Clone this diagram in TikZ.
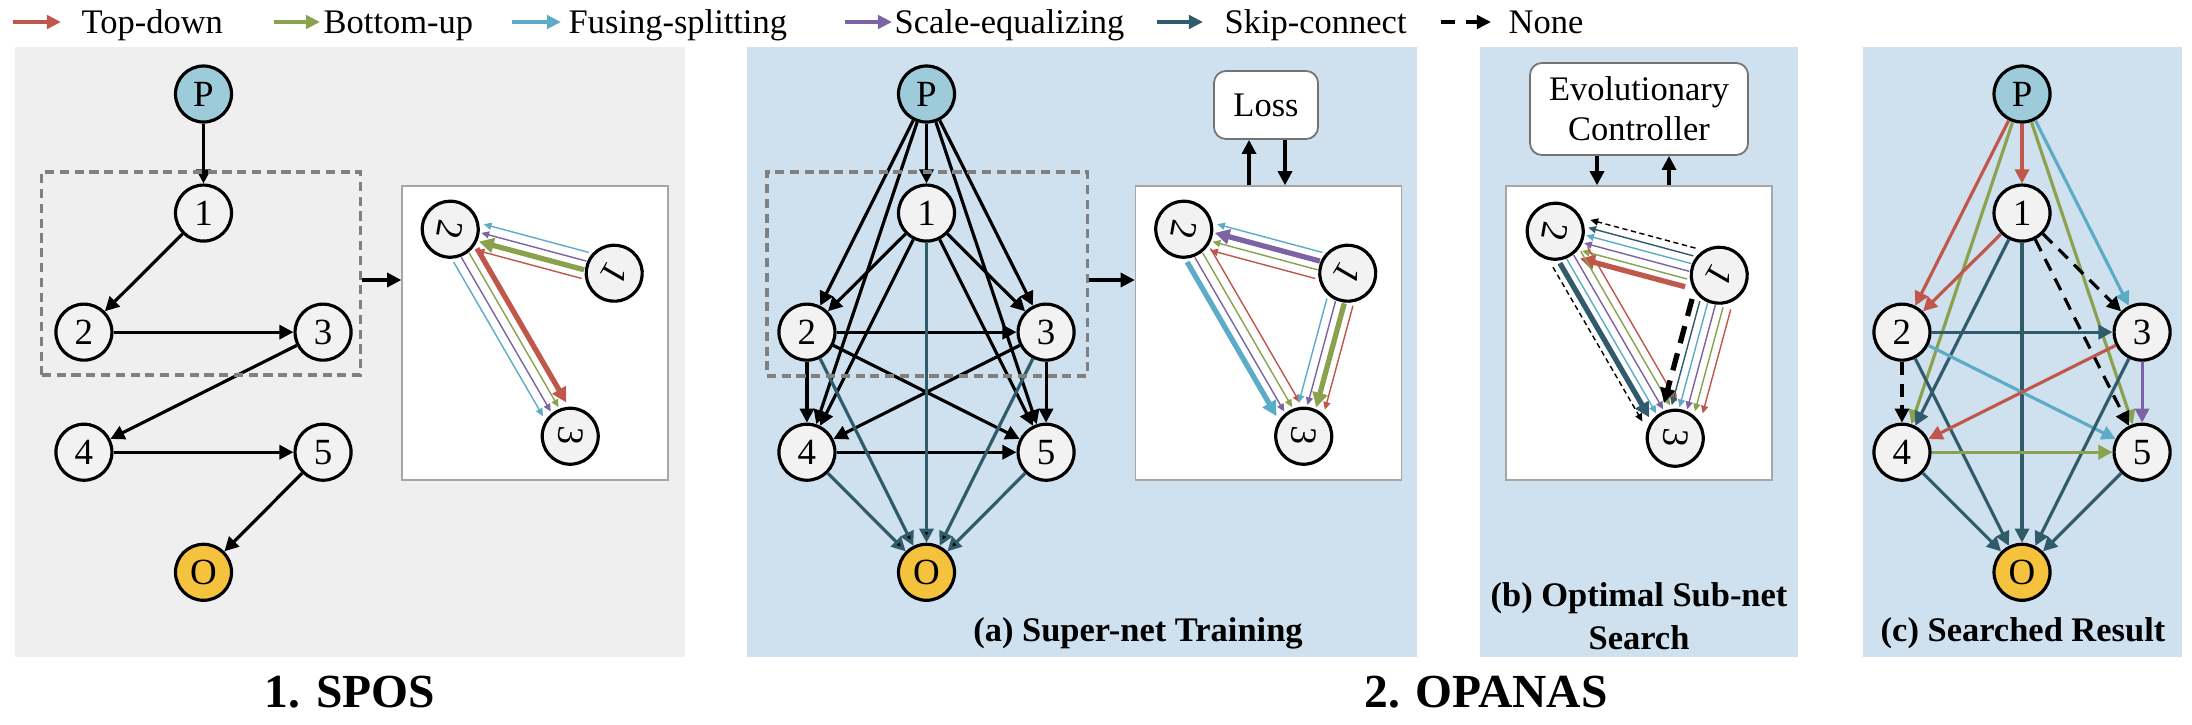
\documentclass[tikz,border=0pt]{standalone}
\usepackage{fontspec}
\setmainfont{Liberation Serif}
\usetikzlibrary{arrows.meta,positioning,calc}

\definecolor{tdred}{HTML}{C0574B}
\definecolor{bugreen}{HTML}{8AA24E}
\definecolor{fsblue}{HTML}{5CACC8}
\definecolor{sepurple}{HTML}{7C64A4}
\definecolor{skteal}{HTML}{2F5B6B}
\definecolor{ndgray}{HTML}{F2F2F2}
\definecolor{pblue}{HTML}{9DCBD9}
\definecolor{oyellow}{HTML}{F4C23C}
\definecolor{sospanel}{HTML}{EFEFEF}
\definecolor{opanel}{HTML}{CFE1EE}

% one line of a bundle, shifted sideways from the centre line
\newcommand{\bline}[4]{\draw[bun,#4] ($(#1)!#3!-90:(#2)$) -- ($(#2)!#3!90:(#1)$);}

\tikzset{
  nd/.style={circle, draw, line width=0.9pt, fill=ndgray, minimum size=0.56cm,
    inner sep=0pt, on grid, font=\fontsize{10.5}{12}\selectfont},
  link/.style={line width=0.9pt, -{Triangle[length=4pt,width=4pt]}},
  td/.style={link, draw=tdred},
  bu/.style={link, draw=bugreen},
  fs/.style={link, draw=fsblue},
  se/.style={link, draw=sepurple},
  sk/.style={link, draw=skteal},
  nn/.style={link, draw=black, dash pattern=on 3.7pt off 2.5pt},
  bun/.style={line width=0.4pt, shorten <=0.3cm, shorten >=0.31cm,
    -{Triangle[length=2.2pt,width=2pt]}},
  bunthick/.style={line width=1.5pt, -{Triangle[length=4.2pt,width=4.2pt]}},
  bundash/.style={dash pattern=on 1.5pt off 1pt},
  inset/.style={draw=black!35, line width=0.4pt, fill=white,
    minimum width=2.66cm, minimum height=2.94cm},
  zoombox/.style={draw=black!50, line width=0.9pt, dash pattern=on 2.6pt off 1.6pt,
    minimum width=3.18cm, minimum height=2.03cm},
  ctrl/.style={draw=black!55, line width=0.5pt, rounded corners=0.12cm, fill=white,
    font=\fontsize{9.8}{11.4}\selectfont},
  legarrow/.style={line width=1.3pt, -{Triangle[length=4pt,width=3.8pt]}},
  legtext/.style={anchor=base west, inner sep=0pt, font=\fontsize{9.8}{11.8}\selectfont},
  lab/.style={anchor=base, inner sep=0pt, font=\fontsize{9.8}{12.2}\selectfont\bfseries},
  title/.style={anchor=base, inner sep=0pt, font=\fontsize{13.5}{16}\selectfont\bfseries}
}

\begin{document}
\begin{tikzpicture}[x=0.01cm, y=-0.01cm]
\useasboundingbox (0,0) rectangle (2192,724);

% panels
\fill[sospanel] (15,47) rectangle (685,657);
\fill[opanel] (747,47) rectangle (1417,657);
\fill[opanel] (1480,47) rectangle (1798,657);
\fill[opanel] (1863,47) rectangle (2182,657);

% legend
\coordinate (lg1) at (13,22);   \coordinate (lg1e) at (61,22);
\coordinate (lg2) at (274,22);  \coordinate (lg2e) at (320,22);
\coordinate (lg3) at (512,22);  \coordinate (lg3e) at (561,22);
\coordinate (lg4) at (845,22);  \coordinate (lg4e) at (892,22);
\coordinate (lg5) at (1157,22); \coordinate (lg5e) at (1203,22);
\coordinate (lg6) at (1441,22); \coordinate (lg6e) at (1491,22);
\draw[legarrow, tdred] (lg1) -- (lg1e);
\draw[legarrow, bugreen] (lg2) -- (lg2e);
\draw[legarrow, fsblue] (lg3) -- (lg3e);
\draw[legarrow, sepurple] (lg4) -- (lg4e);
\draw[legarrow, skteal] (lg5) -- (lg5e);
\draw[legarrow, black, dash pattern=on 4pt off 3pt] (lg6) -- (lg6e);
\node[legtext] (lt1) at (81,33) {Top-down};
\node[legtext] (lt2) at (323,33) {Bottom-up};
\node[legtext] (lt3) at (568,33) {Fusing-splitting};
\node[legtext] (lt4) at (894,33) {Scale-equalizing};
\node[legtext] (lt5) at (1224,33) {Skip-connect};
\node[legtext] (lt6) at (1508,33) {None};

% 1. SPOS
\node[nd, fill=pblue] (sP) at (203.5,94) {P};
\node[nd, below=1.19cm of sP] (s1) {1};
\node[nd, below left=1.19cm and 1.195cm of s1] (s2) {2};
\node[nd, right=2.39cm of s2] (s3) {3};
\node[nd, below=1.2cm of s2] (s4) {4};
\node[nd, below=1.2cm of s3] (s5) {5};
\node[nd, fill=oyellow, below right=1.2cm and 1.195cm of s4] (sO) {O};
\draw[link]
  (sP) edge (s1)
  (s1) edge (s2)
  (s2) edge (s3)
  (s3) edge (s4)
  (s4) edge (s5)
  (s5) edge (sO);

\node[zoombox] (szoom) at (201,273.5) {};
\node[inset] (sinset) at (535,333) {};
\draw[link] ([yshift=-0.065cm]szoom.east) -- ([yshift=-0.065cm]szoom.east -| sinset.west);
\node[nd, rotate=-100] (si2) at ($(sinset.north west)+(49,44)$) {2};
\node[nd, rotate=-120] (si1) at ($(sinset.north west)+(213,88)$) {1};
\node[nd, rotate=-95] (si3) at ($(sinset.north west)+(169,251)$) {3};
\bline{si1}{si2}{0.135cm}{fsblue}
\bline{si1}{si2}{0.045cm}{sepurple}
\bline{si1}{si2}{-0.045cm}{bugreen,bunthick}
\bline{si1}{si2}{-0.135cm}{tdred}
\bline{si2}{si3}{0.135cm}{fsblue}
\bline{si2}{si3}{0.045cm}{sepurple}
\bline{si2}{si3}{-0.045cm}{bugreen}
\bline{si2}{si3}{-0.135cm}{tdred,bunthick}

% (a) super-net
\node[nd, fill=pblue] (aP) at (926.5,94) {P};
\node[nd, below=1.19cm of aP] (a1) {1};
\node[nd, below left=1.19cm and 1.195cm of a1] (a2) {2};
\node[nd, right=2.39cm of a2] (a3) {3};
\node[nd, below=1.2cm of a2] (a4) {4};
\node[nd, below=1.2cm of a3] (a5) {5};
\node[nd, fill=oyellow, below right=1.2cm and 1.195cm of a4] (aO) {O};
\draw[link]
  (aP) edge (a1) (aP) edge (a2) (aP) edge (a3) (aP) edge (a4) (aP) edge (a5)
  (a1) edge (a2) (a1) edge (a3) (a1) edge (a4) (a1) edge (a5)
  (a2) edge (a3) (a2) edge (a4) (a2) edge (a5)
  (a3) edge (a4) (a3) edge (a5)
  (a4) edge (a5);
\draw[sk]
  (a1) edge (aO) (a2) edge (aO) (a3) edge (aO) (a4) edge (aO) (a5) edge (aO);

\node[zoombox, minimum width=3.2cm, minimum height=2.04cm] (azoom) at (927,274) {};
\node[inset] (ainset) at (1268.5,333) {};
\draw[link] ([yshift=-0.06cm]azoom.east) -- ([yshift=-0.06cm]azoom.east -| ainset.west);
\node[ctrl, minimum width=1.04cm, minimum height=0.68cm] (aloss) at (1266,105) {Loss};
\coordinate (aup) at ($(ainset.north)+(-19.5,0)$);
\coordinate (adn) at ($(ainset.north)+(16.5,0)$);
\draw[link] (aup) -- (aup |- aloss.south);
\draw[link] (adn |- aloss.south) -- (adn);
\node[nd, rotate=-100] (ai2) at ($(ainset.north west)+(49,44)$) {2};
\node[nd, rotate=-120] (ai1) at ($(ainset.north west)+(213,88)$) {1};
\node[nd, rotate=-95] (ai3) at ($(ainset.north west)+(169,251)$) {3};
\bline{ai1}{ai2}{0.135cm}{fsblue}
\bline{ai1}{ai2}{0.045cm}{sepurple,bunthick}
\bline{ai1}{ai2}{-0.045cm}{bugreen}
\bline{ai1}{ai2}{-0.135cm}{tdred}
\bline{ai2}{ai3}{0.135cm}{fsblue,bunthick}
\bline{ai2}{ai3}{0.045cm}{sepurple}
\bline{ai2}{ai3}{-0.045cm}{bugreen}
\bline{ai2}{ai3}{-0.135cm}{tdred}
\bline{ai1}{ai3}{0.135cm}{fsblue}
\bline{ai1}{ai3}{0.045cm}{sepurple}
\bline{ai1}{ai3}{-0.045cm}{bugreen,bunthick}
\bline{ai1}{ai3}{-0.135cm}{tdred}
\node[lab] (alab) at (1138,641) {(a) Super-net Training};

% (b) sub-net search
\node[ctrl, minimum width=2.18cm, minimum height=0.92cm, align=center] (bctrl) at (1639,109) {Evolutionary\\Controller};
\node[inset] (binset) at (1639,333) {};
\coordinate (bdn) at ($(binset.north)+(-42,0)$);
\coordinate (bup) at ($(binset.north)+(30,0)$);
\draw[link] (bdn |- bctrl.south) -- (bdn);
\draw[link] (bup) -- (bup |- bctrl.south);
\node[nd, rotate=-100] (bi2) at ($(binset.north west)+(50,46)$) {2};
\node[nd, rotate=-120] (bi1) at ($(binset.north west)+(214,90)$) {1};
\node[nd, rotate=-95] (bi3) at ($(binset.north west)+(170,253)$) {3};
\bline{bi1}{bi2}{0.2cm}{black,bundash}
\bline{bi1}{bi2}{0.12cm}{skteal}
\bline{bi1}{bi2}{0.04cm}{fsblue}
\bline{bi1}{bi2}{-0.04cm}{sepurple}
\bline{bi1}{bi2}{-0.12cm}{bugreen}
\bline{bi1}{bi2}{-0.2cm}{tdred,bunthick}
\bline{bi2}{bi3}{0.2cm}{black,bundash}
\bline{bi2}{bi3}{0.12cm}{skteal,bunthick}
\bline{bi2}{bi3}{0.04cm}{fsblue}
\bline{bi2}{bi3}{-0.04cm}{sepurple}
\bline{bi2}{bi3}{-0.12cm}{bugreen}
\bline{bi2}{bi3}{-0.2cm}{tdred}
\bline{bi1}{bi3}{0.2cm}{black,bunthick,dash pattern=on 5pt off 3pt}
\bline{bi1}{bi3}{0.12cm}{skteal}
\bline{bi1}{bi3}{0.04cm}{fsblue}
\bline{bi1}{bi3}{-0.04cm}{sepurple}
\bline{bi1}{bi3}{-0.12cm}{bugreen}
\bline{bi1}{bi3}{-0.2cm}{tdred}
\node[lab, align=center] (blab) at (1639,649) {(b) Optimal Sub-net\\Search};

% (c) searched result
\node[nd, fill=pblue] (cP) at (2022,94) {P};
\node[nd, below=1.19cm of cP] (c1) {1};
\node[nd, below left=1.19cm and 1.2cm of c1] (c2) {2};
\node[nd, right=2.4cm of c2] (c3) {3};
\node[nd, below=1.2cm of c2] (c4) {4};
\node[nd, below=1.2cm of c3] (c5) {5};
\node[nd, fill=oyellow, below right=1.2cm and 1.2cm of c4] (cO) {O};
\draw
  (cP) edge[td] (c1) (cP) edge[td] (c2) (cP) edge[fs] (c3) (cP) edge[bu] (c4) (cP) edge[bu] (c5)
  (c1) edge[td] (c2) (c1) edge[nn] (c3) (c1) edge[sk] (c4) (c1) edge[nn] (c5) (c1) edge[sk] (cO)
  (c2) edge[sk] (c3) (c2) edge[nn] (c4) (c2) edge[fs] (c5) (c2) edge[sk] (cO)
  (c3) edge[td] (c4) (c3) edge[se] (c5) (c3) edge[sk] (cO)
  (c4) edge[bu] (c5) (c4) edge[sk] (cO)
  (c5) edge[sk] (cO);
\node[lab] (clab) at (2023,641) {(c) Searched Result};

% titles
\node[title] (t1) at (350,707) {1. SPOS};
\node[title] (t2) at (1486,707) {2. OPANAS};
\end{tikzpicture}
\end{document}
